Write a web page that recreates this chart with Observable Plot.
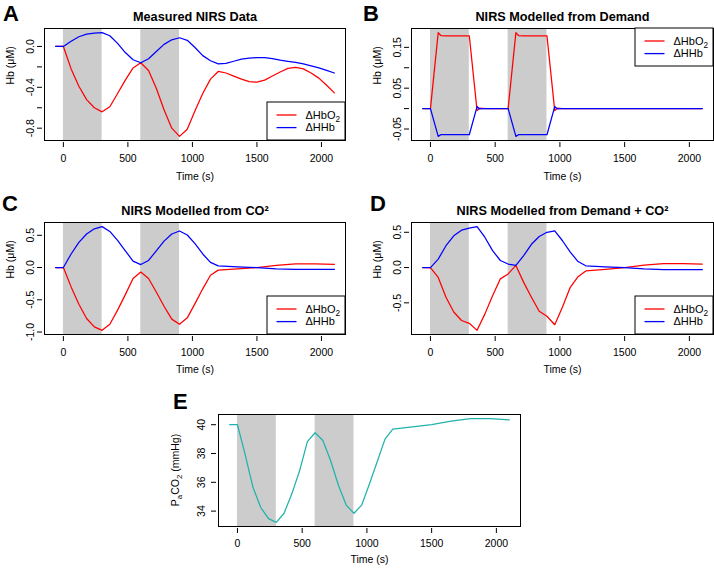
<!DOCTYPE html>
<html><head><meta charset="utf-8">
<script src="https://cdn.jsdelivr.net/npm/d3@7"></script>
<script src="https://cdn.jsdelivr.net/npm/@observablehq/plot@0.6"></script>
<style>
body{margin:0;background:#fff;}
#fig{position:relative;width:714px;height:569px;overflow:hidden;}
</style></head><body><div id="fig"></div>
<script>
// ---------- data ----------
const bandStart = [0, 600];
const bandEnd = [300, 900];
const xTicks = [0, 500, 1000, 1500, 2000];

const timeA = [-60,0,60,120,180,240,300,360,420,480,540,600,660,720,780,840,900,960,1020,1080,1140,1200,1260,1320,1380,1440,1500,1560,1620,1680,1740,1800,1860,1920,1980,2040,2100];
const hbo2A = [0,0,-0.22,-0.39,-0.52,-0.60,-0.64,-0.59,-0.46,-0.33,-0.21,-0.16,-0.235,-0.41,-0.62,-0.80,-0.88,-0.81,-0.63,-0.46,-0.32,-0.245,-0.26,-0.29,-0.32,-0.345,-0.35,-0.33,-0.29,-0.25,-0.215,-0.205,-0.22,-0.26,-0.31,-0.38,-0.455];
const hhbA = [0,0,0.05,0.095,0.12,0.13,0.135,0.105,0.03,-0.06,-0.13,-0.16,-0.12,-0.05,0.02,0.065,0.085,0.06,-0.01,-0.09,-0.14,-0.17,-0.165,-0.145,-0.125,-0.115,-0.11,-0.11,-0.12,-0.135,-0.145,-0.155,-0.17,-0.19,-0.21,-0.235,-0.26];

const timeB = [-60,0,60,80,120,300,360,380,420,600,660,680,720,900,960,980,1020,2100];
const hbo2B = [0,0,0.186,0.179,0.178,0.178,-0.005,0.001,0,0,0.186,0.179,0.178,0.178,-0.005,0.001,0,0];
const hhbB = [0,0,-0.068,-0.064,-0.064,-0.064,0.005,-0.001,0,0,-0.068,-0.064,-0.064,-0.064,0.005,-0.001,0,0];

const timeCD = [-60,0,60,120,180,240,300,360,420,480,540,600,660,720,780,840,900,960,1020,1080,1140,1200,1350,1500,1650,1800,1950,2100];
const hbo2C = [0,0,-0.30,-0.57,-0.79,-0.92,-0.974,-0.88,-0.66,-0.42,-0.17,-0.07,-0.17,-0.38,-0.60,-0.80,-0.88,-0.78,-0.56,-0.33,-0.12,-0.04,-0.02,0.0,0.035,0.055,0.055,0.05];
const hhbC = [0,0,0.21,0.39,0.52,0.60,0.634,0.56,0.42,0.26,0.10,0.046,0.11,0.26,0.41,0.52,0.567,0.505,0.37,0.21,0.08,0.025,0.01,0.0,-0.02,-0.03,-0.03,-0.03];
const hbo2D = [0,0,-0.14,-0.42,-0.63,-0.75,-0.79,-0.89,-0.66,-0.40,-0.16,-0.09,0.03,-0.21,-0.42,-0.62,-0.69,-0.81,-0.56,-0.28,-0.13,-0.047,-0.025,0.0,0.035,0.055,0.055,0.05];
const hhbD = [0,0,0.12,0.31,0.45,0.53,0.56,0.58,0.43,0.24,0.10,0.05,0.03,0.17,0.33,0.44,0.50,0.52,0.38,0.22,0.085,0.025,0.01,0.0,-0.02,-0.03,-0.03,-0.03];

const timeE = [-60,0,60,120,180,240,300,360,420,480,540,600,660,720,780,840,900,960,1020,1080,1140,1200,1350,1500,1650,1800,1950,2100];
const paco2E = [40,40,37.9,35.65,34.25,33.48,33.22,33.85,35.2,36.8,38.82,39.44,38.9,37.5,35.8,34.42,33.85,34.42,35.9,37.45,39.0,39.7,39.85,40.0,40.25,40.42,40.42,40.33];

const yTicksA = [-0.8,-0.6,-0.4,-0.2,0], yLabelsA = [-0.8,-0.4,0];
const yTicksB = [-0.05,0,0.05,0.1,0.15], yLabelsB = [-0.05,0.05,0.15];
const yTicksC = [-1,-0.5,0,0.5], yLabelsC = [-1,-0.5,0,0.5];
const yTicksD = [-0.5,0,0.5], yLabelsD = [-0.5,0,0.5];
const yTicksE = [34,36,38,40], yLabelsE = [34,36,38,40];

const titles = ["Measured NIRS Data","NIRS Modelled from Demand","NIRS Modelled from CO\u00B2","NIRS Modelled from Demand + CO\u00B2"];
const seriesNames = ["\u0394HbO2","\u0394HHb"];
const seriesColors = ["red","blue"];
const co2Color = "#20B2AA";
const bandColor = "#cccccc";

// ---------- layout ----------
const FONT = '"Liberation Sans", Arial, Helvetica, sans-serif';
const panels = [
  {id:"A", left:0, top:0, width:357, height:190, mL:44, mR:12, mT:28, mB:50, time:timeA,
   series:[{v:hbo2A,c:seriesColors[0]},{v:hhbA,c:seriesColors[1]}], yTicks:yTicksA, yLabels:yLabelsA, digits:1,
   title:titles[0], titleDy:-16.5, xlabDy:39, ylab:"Hb (\u03BCM)", ylabDx:-34, yPad:4, xPad:7, legend:"bottom", letter:[3,20.5]},
  {id:"B", left:357, top:0, width:357, height:190, mL:54, mR:1, mT:28, mB:50, time:timeB,
   series:[{v:hbo2B,c:seriesColors[0]},{v:hhbB,c:seriesColors[1]}], yTicks:yTicksB, yLabels:yLabelsB, digits:2,
   title:titles[1], titleDy:-16.5, xlabDy:39, ylab:"Hb (\u03BCM)", ylabDx:-34, yPad:4, xPad:7, legend:"top", letter:[6,20.5]},
  {id:"C", left:0, top:190, width:357, height:190, mL:44, mR:12, mT:32, mB:46, time:timeCD,
   series:[{v:hbo2C,c:seriesColors[0]},{v:hhbC,c:seriesColors[1]}], yTicks:yTicksC, yLabels:yLabelsC, digits:1,
   title:titles[2], titleDy:-17, xlabDy:38.7, ylab:"Hb (\u03BCM)", ylabDx:-34, yPad:4, xPad:7, legend:"bottom", letter:[2,20.7]},
  {id:"D", left:357, top:190, width:357, height:190, mL:54, mR:1, mT:32, mB:46, time:timeCD,
   series:[{v:hbo2D,c:seriesColors[0]},{v:hhbD,c:seriesColors[1]}], yTicks:yTicksD, yLabels:yLabelsD, digits:1,
   title:titles[3], titleDy:-17, xlabDy:38.7, ylab:"Hb (\u03BCM)", ylabDx:-34, yPad:4, xPad:7, legend:"bottom", letter:[13,20.7]},
  {id:"E", left:160, top:380, width:400, height:189, mL:58, mR:40, mT:34, mB:43, time:timeE,
   series:[{v:paco2E,c:co2Color}], yTicks:yTicksE, yLabels:yLabelsE, digits:0,
   title:null, xlabDy:36.6, ylab:null, ylabDx:-39, yPad:6.5, xPad:6, legend:null, letter:[13,29.3]}
];

function extend(arrs){
  const all = arrs.flat();
  const lo = d3.min(all), hi = d3.max(all), r = hi - lo;
  return [lo - 0.04*r, hi + 0.04*r];
}
const xDomain = extend([timeA]);
const bands = bandStart.map((s,i)=>({start:s, end:bandEnd[i]}));
const fig = document.getElementById("fig");

for (const p of panels) {
  const yDomain = extend(p.series.map(s=>s.v));
  const chart = Plot.plot({
    width:p.width, height:p.height,
    marginLeft:p.mL, marginRight:p.mR, marginTop:p.mT, marginBottom:p.mB,
    x:{domain:xDomain}, y:{domain:yDomain},
    style:{fontFamily:FONT, fontSize:"10.5px", background:"transparent", overflow:"visible", color:"black"},
    marks:[
      Plot.rect(bands, {x1:"start", x2:"end", fill:bandColor}),
      ...p.series.map(s => Plot.lineY(s.v, {x:p.time, stroke:s.c, strokeWidth:1.25})),
      Plot.frame({stroke:"black", strokeWidth:1}),
      Plot.axisX({ticks:xTicks, tickSize:5, tickPadding:p.xPad, dy:2, tickFormat:d=>String(d), label:null}),
      Plot.axisY({ticks:p.yTicks, tickSize:5, tickPadding:p.yPad, dx:-2, tickRotate:-90,
        tickFormat:d => p.yLabels.includes(d) ? d.toFixed(p.digits) : "", label:null}),
      p.title ? Plot.text([p.title], {text:d=>d, frameAnchor:"top", dy:p.titleDy, fontWeight:"bold", fontSize:12.7}) : null,
      Plot.text(["Time (s)"], {text:d=>d, frameAnchor:"bottom", dy:p.xlabDy}),
      p.ylab ? Plot.text([p.ylab], {text:d=>d, frameAnchor:"left", dx:p.ylabDx, rotate:-90}) : null
    ]
  });
  // drop the unlabeled (empty) tick texts, keeping their tick lines
  d3.select(chart).selectAll("text").filter(function(){ return this.textContent === ""; }).remove();
  chart.style.position = "absolute";
  chart.style.left = p.left + "px";
  chart.style.top = p.top + "px";
  fig.appendChild(chart);
}

// ---------- overlay: panel letters, legends, E axis title ----------
const ov = d3.select(fig).append("svg")
  .attr("width",714).attr("height",569)
  .style("position","absolute").style("left","0px").style("top","0px")
  .style("font-family",FONT);

function subText(sel, parts, size){
  let prevSub = false;
  parts.forEach(([s, sub]) => {
    const dy = sub && !prevSub ? 3 : (!sub && prevSub ? -3 : 0);
    sel.append("tspan").attr("font-size", sub ? size*0.75 : size).attr("dy", dy).text(s);
    prevSub = sub;
  });
}

const LW = 78, LH = 38;
for (const p of panels) {
  ov.append("text").attr("x", p.left + p.letter[0]).attr("y", p.top + p.letter[1])
    .attr("font-size", 22).attr("font-weight","bold").text(p.id);
  const boxL = p.left + p.mL, boxR = p.left + p.width - p.mR;
  const boxT = p.top + p.mT, boxB = p.top + p.height - p.mB;
  if (p.legend) {
    const lx = boxR - LW, ly = p.legend === "top" ? boxT : boxB - LH;
    const g = ov.append("g").attr("transform", `translate(${lx},${ly})`);
    g.append("rect").attr("width",LW).attr("height",LH).attr("fill","white").attr("stroke","black");
    seriesNames.forEach((name,i) => {
      const yy = 13 + i*12.6;
      g.append("line").attr("x1",9.5).attr("x2",29.5).attr("y1",yy).attr("y2",yy)
        .attr("stroke",seriesColors[i]).attr("stroke-width",1.3);
      const t = g.append("text").attr("x",38.5).attr("y",yy+3.8).attr("font-size",11);
      const m = name.match(/^(.*?)(\d*)$/);
      const parts = [[m[1], false]];
      if (m[2]) parts.push([m[2], true]);
      subText(t, parts, 11);
    });
  }
  if (p.id === "E") {
    const cx = boxL + p.ylabDx, cy = (boxT + boxB)/2;
    const t = ov.append("text").attr("transform",`translate(${cx},${cy}) rotate(-90)`)
      .attr("text-anchor","middle").attr("dy","0.35em").attr("font-size",10.5);
    subText(t, [["P",false],["a",true],["CO",false],["2",true],[" (mmHg)",false]], 10.5);
  }
}
</script></body></html>
